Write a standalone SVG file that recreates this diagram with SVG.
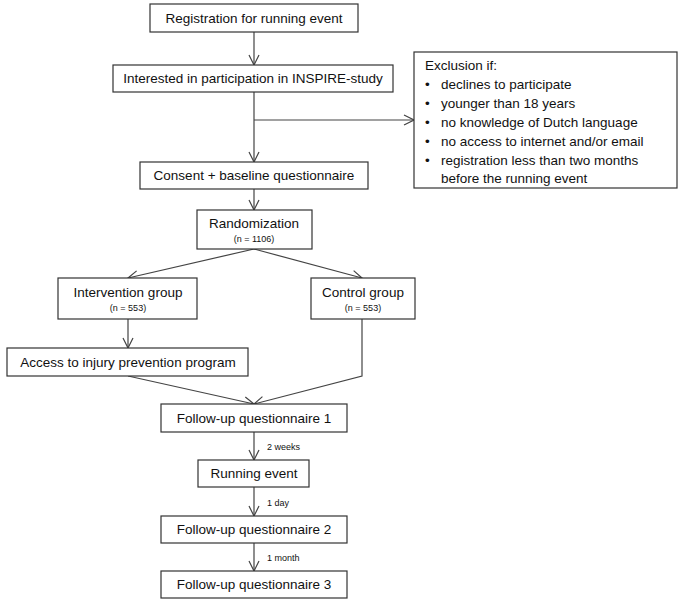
<svg xmlns="http://www.w3.org/2000/svg" width="683" height="605" viewBox="0 0 683 605">
<style>
rect{fill:#fff;stroke:#333;stroke-width:1.2}
text{font-family:"Liberation Sans",Arial,sans-serif;font-size:13.5px;fill:#111}
.c{text-anchor:middle}
.s{font-size:9px}
#connectors path{fill:none;stroke:#444;stroke-width:1.2}
</style>
<defs><marker id="a" viewBox="0 0 12 12" refX="11" refY="6" markerWidth="12" markerHeight="12" markerUnits="userSpaceOnUse" orient="auto"><path d="M1,1 L11,6 L1,11" fill="none" stroke="#444" stroke-width="1.2"/></marker></defs>
<rect x="0" y="0" width="683" height="605" style="fill:#fff;stroke:none"/>
<g id="connectors">
<path d="M254,32 V65" marker-end="url(#a)"/>
<path d="M254,92 V162" marker-end="url(#a)"/>
<path d="M254,120 H414" marker-end="url(#a)"/>
<path d="M254,189 V210" marker-end="url(#a)"/>
<path d="M254,249 L128,278" marker-end="url(#a)"/>
<path d="M254,249 L362,278" marker-end="url(#a)"/>
<path d="M128,319 V348" marker-end="url(#a)"/>
<path d="M128,376 L254,404" marker-end="url(#a)"/>
<path d="M362,319 V376 L254,404" marker-end="url(#a)"/>
<path d="M254,432 V460" marker-end="url(#a)"/>
<path d="M254,487 V516" marker-end="url(#a)"/>
<path d="M254,543 V571" marker-end="url(#a)"/>
</g>
<g id="n1"><rect x="150" y="4" width="208" height="28"/><text class="c" x="254" y="23">Registration for running event</text></g>
<g id="n2"><rect x="113" y="65" width="280" height="27"/><text class="c" x="253" y="83">Interested in participation in INSPIRE-study</text></g>
<g id="excl"><rect x="414" y="52" width="263" height="136"/>
<text x="425" y="70">Exclusion if:</text>
<text x="425" y="89">•</text><text x="441" y="89">declines to participate</text>
<text x="425" y="108">•</text><text x="441" y="108">younger than 18 years</text>
<text x="425" y="127">•</text><text x="441" y="127">no knowledge of Dutch language</text>
<text x="425" y="146">•</text><text x="441" y="146">no access to internet and/or email</text>
<text x="425" y="165">•</text><text x="441" y="165">registration less than two months</text>
<text x="441" y="183">before the running event</text></g>
<g id="n3"><rect x="140" y="162" width="228" height="27"/><text class="c" x="254" y="180">Consent + baseline questionnaire</text></g>
<g id="n4"><rect x="197" y="210" width="115" height="39"/><text class="c" x="254" y="228">Randomization</text><text class="c s" x="254" y="242">(n = 1106)</text></g>
<g id="n5"><rect x="58" y="278" width="139" height="41"/><text class="c" x="128" y="297">Intervention group</text><text class="c s" x="128" y="311">(n = 553)</text></g>
<g id="n6"><rect x="311" y="278" width="104" height="41"/><text class="c" x="363" y="297">Control group</text><text class="c s" x="363" y="311">(n = 553)</text></g>
<g id="n7"><rect x="7" y="348" width="241" height="28"/><text class="c" x="128" y="367">Access to injury prevention program</text></g>
<g id="n8"><rect x="161" y="404" width="186" height="28"/><text class="c" x="254" y="423">Follow-up questionnaire 1</text></g>
<g id="n9"><rect x="198" y="460" width="111" height="27"/><text class="c" x="254" y="478">Running event</text></g>
<g id="n10"><rect x="161" y="516" width="186" height="27"/><text class="c" x="254" y="534">Follow-up questionnaire 2</text></g>
<g id="n11"><rect x="161" y="571" width="186" height="27"/><text class="c" x="254" y="589">Follow-up questionnaire 3</text></g>
<g id="labels"><text class="s" x="267" y="450">2 weeks</text><text class="s" x="267" y="506">1 day</text><text class="s" x="267" y="561">1 month</text></g>
</svg>
